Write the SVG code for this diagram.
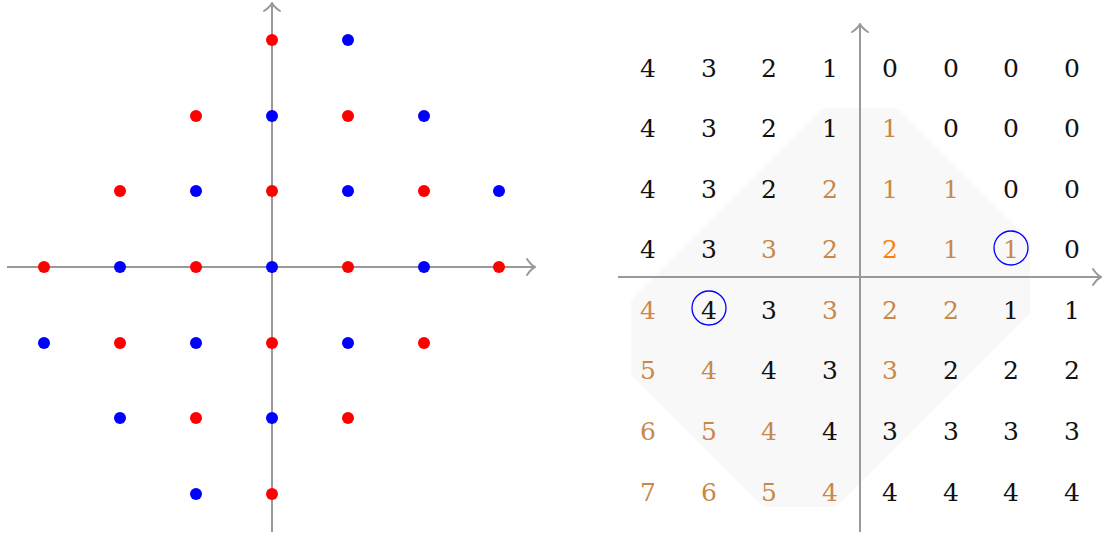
<svg xmlns="http://www.w3.org/2000/svg" width="1102" height="534" viewBox="0 0 1102 534">
<style>
.ax{stroke:#999;stroke-width:2;fill:none}
.ah{stroke:#999;stroke-width:2;fill:none;stroke-linecap:round;stroke-linejoin:round}
.r{fill:#ff0000}
.b{fill:#0000ff}
.k{fill:#111}
.t{fill:#c8884a}
.o{fill:#ff7f0e}
.c{fill:none;stroke:#0000ff;stroke-width:1.3}
#numbers text{font-family:"DejaVu Serif","Liberation Serif",serif;font-size:25px;text-anchor:middle}
</style>
<rect width="1102" height="534" fill="#fff"/>
<g id="left-plot">
<g id="connectors-left">
<line class="ax" x1="7" y1="267" x2="534" y2="267"/>
<path class="ah" d="M527,259 Q531,265 535,267 Q531,269 527,275"/>
<line class="ax" x1="272" y1="532" x2="272" y2="4"/>
<path class="ah" d="M264,11 Q270,7 272,3 Q274,7 280,11"/>
</g>
<g id="dots">
<circle class="r" cx="272" cy="40" r="6"/><circle class="b" cx="348" cy="40" r="6"/>
<circle class="r" cx="196" cy="116" r="6"/><circle class="b" cx="272" cy="116" r="6"/><circle class="r" cx="348" cy="116" r="6"/><circle class="b" cx="424" cy="116" r="6"/>
<circle class="r" cx="120" cy="191" r="6"/><circle class="b" cx="196" cy="191" r="6"/><circle class="r" cx="272" cy="191" r="6"/><circle class="b" cx="348" cy="191" r="6"/><circle class="r" cx="424" cy="191" r="6"/><circle class="b" cx="499" cy="191" r="6"/>
<circle class="r" cx="44" cy="267" r="6"/><circle class="b" cx="120" cy="267" r="6"/><circle class="r" cx="196" cy="267" r="6"/><circle class="b" cx="272" cy="267" r="6"/><circle class="r" cx="348" cy="267" r="6"/><circle class="b" cx="424" cy="267" r="6"/><circle class="r" cx="499" cy="267" r="6"/>
<circle class="b" cx="44" cy="343" r="6"/><circle class="r" cx="120" cy="343" r="6"/><circle class="b" cx="196" cy="343" r="6"/><circle class="r" cx="272" cy="343" r="6"/><circle class="b" cx="348" cy="343" r="6"/><circle class="r" cx="424" cy="343" r="6"/>
<circle class="b" cx="120" cy="418" r="6"/><circle class="r" cx="196" cy="418" r="6"/><circle class="b" cx="272" cy="418" r="6"/><circle class="r" cx="348" cy="418" r="6"/>
<circle class="b" cx="196" cy="494" r="6"/><circle class="r" cx="272" cy="494" r="6"/>
</g>
</g>
<g id="right-plot">
<path id="region" d="M826,108 L894,108 Q897,108 899,110 L1028,239 Q1030,241 1030,244 L1030,310 Q1030,313 1028,315 L839,504 Q837,507 834,507 L766,507 Q763,507 761,505 L633,377 Q631,375 631,372 L631,303 Q631,300 633,298 L821,110 Q823,108 826,108 Z" fill="#f8f8f8"/>
<g id="connectors-right">
<line class="ax" x1="618" y1="277" x2="1101" y2="277"/>
<path class="ah" d="M1093,269 Q1097,275 1101,277 Q1097,279 1093,285"/>
<line class="ax" x1="860" y1="532" x2="860" y2="25"/>
<path class="ah" d="M852,32 Q858,28 860,24 Q862,28 868,32"/>
</g>
<g id="numbers">
<text class="k" x="648" y="77">4</text><text class="k" x="709" y="77">3</text><text class="k" x="769" y="77">2</text><text class="k" x="830" y="77">1</text><text class="k" x="890" y="77">0</text><text class="k" x="951" y="77">0</text><text class="k" x="1011" y="77">0</text><text class="k" x="1072" y="77">0</text>
<text class="k" x="648" y="137">4</text><text class="k" x="709" y="137">3</text><text class="k" x="769" y="137">2</text><text class="k" x="830" y="137">1</text><text class="t" x="890" y="137">1</text><text class="k" x="951" y="137">0</text><text class="k" x="1011" y="137">0</text><text class="k" x="1072" y="137">0</text>
<text class="k" x="648" y="198">4</text><text class="k" x="709" y="198">3</text><text class="k" x="769" y="198">2</text><text class="t" x="830" y="198">2</text><text class="t" x="890" y="198">1</text><text class="t" x="951" y="198">1</text><text class="k" x="1011" y="198">0</text><text class="k" x="1072" y="198">0</text>
<text class="k" x="648" y="258">4</text><text class="k" x="709" y="258">3</text><text class="t" x="769" y="258">3</text><text class="t" x="830" y="258">2</text><text class="o" x="890" y="258">2</text><text class="t" x="951" y="258">1</text><text class="t" x="1011" y="258">1</text><text class="k" x="1072" y="258">0</text>
<text class="t" x="648" y="319">4</text><text class="k" x="709" y="319">4</text><text class="k" x="769" y="319">3</text><text class="t" x="830" y="319">3</text><text class="t" x="890" y="319">2</text><text class="t" x="951" y="319">2</text><text class="k" x="1011" y="319">1</text><text class="k" x="1072" y="319">1</text>
<text class="t" x="648" y="379">5</text><text class="t" x="709" y="379">4</text><text class="k" x="769" y="379">4</text><text class="k" x="830" y="379">3</text><text class="t" x="890" y="379">3</text><text class="k" x="951" y="379">2</text><text class="k" x="1011" y="379">2</text><text class="k" x="1072" y="379">2</text>
<text class="t" x="648" y="440">6</text><text class="t" x="709" y="440">5</text><text class="t" x="769" y="440">4</text><text class="k" x="830" y="440">4</text><text class="k" x="890" y="440">3</text><text class="k" x="951" y="440">3</text><text class="k" x="1011" y="440">3</text><text class="k" x="1072" y="440">3</text>
<text class="t" x="648" y="501">7</text><text class="t" x="709" y="501">6</text><text class="t" x="769" y="501">5</text><text class="t" x="830" y="501">4</text><text class="k" x="890" y="501">4</text><text class="k" x="951" y="501">4</text><text class="k" x="1011" y="501">4</text><text class="k" x="1072" y="501">4</text>
</g>
<g id="marks">
<circle class="c" cx="709" cy="308" r="17"/>
<circle class="c" cx="1011" cy="248" r="17"/>
</g>
</g>
</svg>
